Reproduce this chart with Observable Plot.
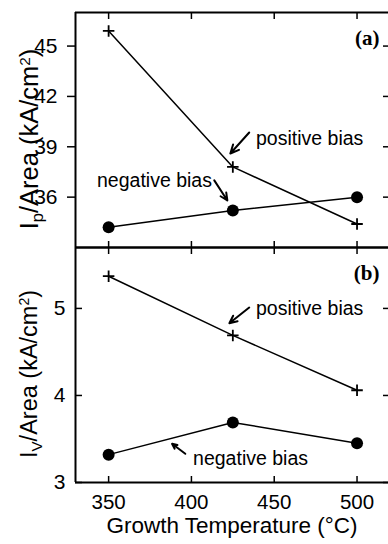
<!DOCTYPE html>
<html>
<head>
<meta charset="utf-8">
<script src="https://cdn.jsdelivr.net/npm/d3@7"></script>
<script src="https://cdn.jsdelivr.net/npm/@observablehq/plot@0.6"></script>
<style>
  html, body { margin: 0; padding: 0; background: #fff; }
  #wrap { position: relative; width: 388px; height: 544px; overflow: hidden; }
  #wrap svg { position: absolute; left: 0; background: transparent; }
</style>
</head>
<body>
<div id="wrap"></div>
<script>
// ---- data ----
const temps = [350, 425, 500];
const peakPositive = [45.9, 37.8, 34.4];
const peakNegative = [34.2, 35.2, 36.0];
const valleyPositive = [5.37, 4.69, 4.06];
const valleyNegative = [3.32, 3.69, 3.45];

const xTicks = [350, 400, 450, 500];
const peakTicks = [36, 39, 42, 45];
const valleyTicks = [3, 4, 5];
const xDomain = [330, 519];
const peakDomain = [33, 47];
const valleyDomain = [3, 5.7];

const xLabel = "Growth Temperature (°C)";
const peakLabel = "Ip/Area (kA/cm2)";
const valleyLabel = "IV/Area (kA/cm2)";

// annotations (data coordinates)
const peakNotes = [
  {text: "positive bias", x: 439, y: 39.5},
  {text: "negative bias", x: 343, y: 37.0}
];
const peakArrows = [
  {x1: 434.9, y1: 39.85, x2: 423.5, y2: 38.6},
  {x1: 413.8, y1: 37.0, x2: 421.7, y2: 35.8}
];
const valleyNotes = [
  {text: "positive bias", x: 439, y: 5.0},
  {text: "negative bias", x: 401, y: 3.27}
];
const valleyArrows = [
  {x1: 434.9, y1: 5.01, x2: 422.9, y2: 4.83},
  {x1: 396.3, y1: 3.33, x2: 388.3, y2: 3.445}
];

const FONT = "'Liberation Sans', Arial, Helvetica, sans-serif";

function rows(ys) { return temps.map((t, i) => ({t, v: ys[i]})); }

function panel({height, marginTop, marginBottom, yDomain, yTicks, pos, neg, notes, arrows,
                leftTickSize, leftDx, panelTag, yLabelText, yLabelDy, yLabelSize, showXLabels}) {
  const marks = [
    Plot.ruleY([yDomain[1]], {strokeWidth: 2}),
    Plot.ruleY([yDomain[0]], {strokeWidth: 2}),
    Plot.ruleX([xDomain[0]], {strokeWidth: 2}),
    Plot.axisX(xTicks, {anchor: "top", tickSize: -6, text: null, strokeWidth: 1.5}),
    Plot.axisX(xTicks, {anchor: "bottom", tickSize: -6, text: null, strokeWidth: 1.5}),
    Plot.axisY(yTicks, {anchor: "right", tickSize: -6, text: null, strokeWidth: 1.5}),
    Plot.axisY(yTicks, {anchor: "left", tickSize: leftTickSize, text: null, strokeWidth: 1.5}),
    Plot.text(yTicks, {y: d => d, text: d => String(d), frameAnchor: "left", textAnchor: "end", lineAnchor: "middle", dx: leftDx, fontSize: 21, fontFamily: FONT, fill: "black"}),
    Plot.line(rows(pos), {x: "t", y: "v", stroke: "black", strokeWidth: 1.5}),
    Plot.line(rows(neg), {x: "t", y: "v", stroke: "black", strokeWidth: 1.5}),
    Plot.dot(rows(pos), {x: "t", y: "v", symbol: "plus", r: 3.8, stroke: "black", strokeWidth: 1.8}),
    Plot.dot(rows(neg), {x: "t", y: "v", r: 6, fill: "black", stroke: "none"}),
    Plot.text(notes, {x: "x", y: "y", text: "text", textAnchor: "start", lineAnchor: "middle", fontSize: 19.5, fontFamily: FONT, fill: "black"}),
    Plot.arrow(arrows, {x1: "x1", y1: "y1", x2: "x2", y2: "y2", stroke: "black", strokeWidth: 2, headLength: 9, headAngle: 50}),
    Plot.text([panelTag], {frameAnchor: "top-right", dx: -9, dy: 26, lineAnchor: "middle", textAnchor: "end", fontSize: 21, fontWeight: "bold", fontFamily: "'Liberation Serif', 'Times New Roman', serif", fill: "black"}),
    Plot.text([yLabelText], {frameAnchor: "left", rotate: -90, dx: -46, dy: yLabelDy, textAnchor: "middle", lineAnchor: "middle", fontSize: yLabelSize, fontFamily: FONT, fill: "black"})
  ];
  if (showXLabels) {
    marks.push(Plot.text(xTicks, {x: d => d, text: d => String(d), frameAnchor: "bottom", lineAnchor: "top", dy: 12, fontSize: 20.5, fontFamily: FONT, fill: "black"}));
    marks.push(Plot.text([xLabel], {frameAnchor: "bottom", dy: 43, lineAnchor: "middle", fontSize: 22.5, fontFamily: FONT, fill: "black"}));
  }
  return Plot.plot({
    width: 388,
    height,
    marginTop,
    marginBottom,
    marginLeft: 75,
    marginRight: 0,
    style: {background: "transparent", color: "black", overflow: "visible"},
    x: {domain: xDomain, axis: null},
    y: {domain: yDomain, axis: null},
    marks
  });
}

function styleLabel(svg, sub, size) {
  d3.select(svg).selectAll("text").filter(function() { return this.textContent.includes("/Area"); })
    .each(function() {
      const t = d3.select(this);
      t.text(null);
      t.append("tspan").text("I");
      t.append("tspan").attr("dy", 5).attr("font-size", size * 0.65).text(sub);
      t.append("tspan").attr("dy", -5).text("/Area (kA/cm");
      t.append("tspan").attr("dy", -8).attr("font-size", size * 0.6).text("2");
      t.append("tspan").attr("dy", 8).text(")");
    });
}

const wrap = document.getElementById("wrap");

const topPanel = panel({
  height: 250, marginTop: 12, marginBottom: 3,
  yDomain: peakDomain, yTicks: peakTicks, pos: peakPositive, neg: peakNegative,
  notes: peakNotes, arrows: peakArrows, leftTickSize: 8, leftDx: -18,
  panelTag: "(a)", yLabelText: peakLabel, yLabelDy: 9, yLabelSize: 25.5, showXLabels: false
});
topPanel.style.top = "0px";
styleLabel(topPanel, "p", 25.5);

const bottomPanel = panel({
  height: 309, marginTop: 12, marginBottom: 62,
  yDomain: valleyDomain, yTicks: valleyTicks, pos: valleyPositive, neg: valleyNegative,
  notes: valleyNotes, arrows: valleyArrows, leftTickSize: -7, leftDx: -10,
  panelTag: "(b)", yLabelText: valleyLabel, yLabelDy: 9, yLabelSize: 23.5, showXLabels: true
});
bottomPanel.style.top = "235px";
styleLabel(bottomPanel, "V", 23.5);

wrap.appendChild(topPanel);
wrap.appendChild(bottomPanel);
</script>
</body>
</html>
